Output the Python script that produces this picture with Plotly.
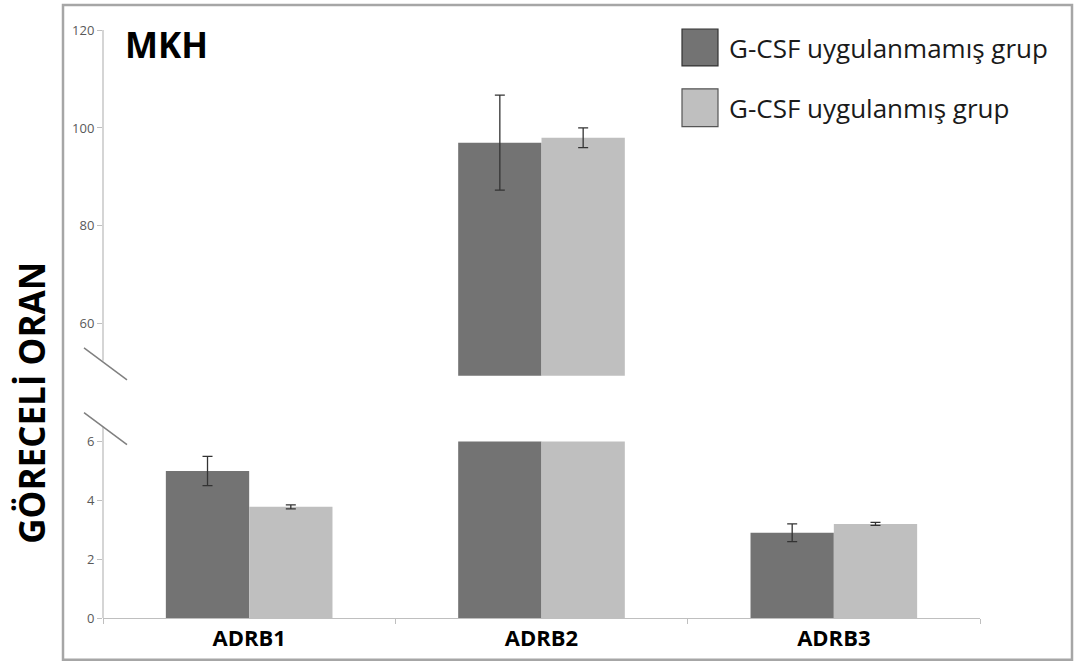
import plotly.graph_objects as go
import numpy as np

categories = ["ADRB1", "ADRB2", "ADRB3"]
series_names = ["G-CSF uygulanmamış grup", "G-CSF uygulanmış grup"]
untreated = [5.0, 97.0, 2.9]
untreated_err = [0.5, 9.7, 0.3]
treated = [3.78, 98.0, 3.2]
treated_err = [0.07, 2.0, 0.05]
upper_ticks = [60, 80, 100, 120]
lower_ticks = [0, 2, 4, 6]
title_text = "MKH"
ylabel_text = "GÖRECELİ ORAN"

colors = ["#737373", "#bfbfbf"]
series = [(untreated, untreated_err), (treated, treated_err)]

W, H = 1074, 664
L, R, T, B = 103, 980, 30, 620
def px(x):
    return (x - L) / (R - L)
def py(y):
    return (B - y) / (B - T)

fig = go.Figure()
for yax in ["y", "y2"]:
    for i, (vals, errs) in enumerate(series):
        fig.add_trace(go.Bar(
            x=categories, y=vals, name=series_names[i],
            marker=dict(color=colors[i], line=dict(width=0)),
            error_y=dict(type="data", array=errs, visible=True,
                         color="#333333", thickness=1.3, width=5),
            xaxis="x", yaxis=yax, showlegend=False,
        ))

tickfont = dict(family="Open Sans", size=13, color="#595959")
fig.update_layout(
    width=W, height=H,
    margin=dict(l=L, r=W - R, t=T, b=H - B),
    paper_bgcolor="white", plot_bgcolor="white",
    barmode="group", bargap=0.43, bargroupgap=0,
    showlegend=False,
    xaxis=dict(
        anchor="y", tickson="boundaries", ticks="outside", ticklen=5,
        tickcolor="#bfbfbf", showline=True, linecolor="#bfbfbf", linewidth=1.3,
        showgrid=False, zeroline=False,
        tickfont=dict(family="Open Sans", size=22, color="black", weight="bold"),
    ),
    yaxis=dict(
        domain=[0, py(443)], range=[0, 6], tickvals=lower_ticks,
        ticks="outside", ticklen=5, tickcolor="#bfbfbf", showline=False,
        showgrid=False, zeroline=False, tickfont=tickfont,
    ),
    yaxis2=dict(
        domain=[py(377), 1], range=[49.4, 120], tickvals=upper_ticks,
        anchor="x", ticks="outside", ticklen=5, tickcolor="#bfbfbf", showline=False,
        showgrid=False, zeroline=False, tickfont=tickfont,
    ),
)

shapes = []
# axis lines (broken)
shapes.append(dict(type="line", xref="paper", yref="paper", x0=0, x1=0,
                   y0=py(362), y1=1, line=dict(color="#bfbfbf", width=1.3)))
shapes.append(dict(type="line", xref="paper", yref="paper", x0=0, x1=0,
                   y0=0, y1=py(428), line=dict(color="#bfbfbf", width=1.3)))
# break slashes
for (y0, y1) in [(349, 381), (414, 446)]:
    shapes.append(dict(type="line", xref="paper", yref="paper",
                       x0=px(84), x1=px(127), y0=py(y0), y1=py(y1),
                       line=dict(color="#808080", width=1.5)))
# outer frame
shapes.append(dict(type="rect", xref="paper", yref="paper",
                   x0=px(63), x1=px(1072), y0=py(662), y1=py(5),
                   line=dict(color="#a6a6a6", width=2.5)))
# legend squares
shapes.append(dict(type="rect", xref="paper", yref="paper",
                   x0=px(682), x1=px(718), y0=py(66), y1=py(29),
                   fillcolor=colors[0], line=dict(color="#333333", width=1.2)))
shapes.append(dict(type="rect", xref="paper", yref="paper",
                   x0=px(682), x1=px(718), y0=py(127), y1=py(89),
                   fillcolor=colors[1], line=dict(color="#555555", width=1.2)))

annotations = [
    dict(text=series_names[0], xref="paper", yref="paper", x=px(727), y=py(48),
         xanchor="left", yanchor="middle", showarrow=False,
         font=dict(family="Open Sans", size=26, color="#1a1a1a")),
    dict(text=series_names[1], xref="paper", yref="paper", x=px(727), y=py(108),
         xanchor="left", yanchor="middle", showarrow=False,
         font=dict(family="Open Sans", size=26, color="#1a1a1a")),
    dict(text=title_text, xref="paper", yref="paper", x=px(123), y=py(45),
         xanchor="left", yanchor="middle", showarrow=False,
         font=dict(family="Open Sans", size=35, color="black", weight="bold")),
    dict(text=ylabel_text, xref="paper", yref="paper", x=px(32), y=py(404),
         xanchor="center", yanchor="middle", showarrow=False, textangle=-90,
         font=dict(family="Open Sans", size=35, color="black", weight="bold")),
]
fig.update_layout(shapes=shapes, annotations=annotations)

fig.write_html("out.html")
